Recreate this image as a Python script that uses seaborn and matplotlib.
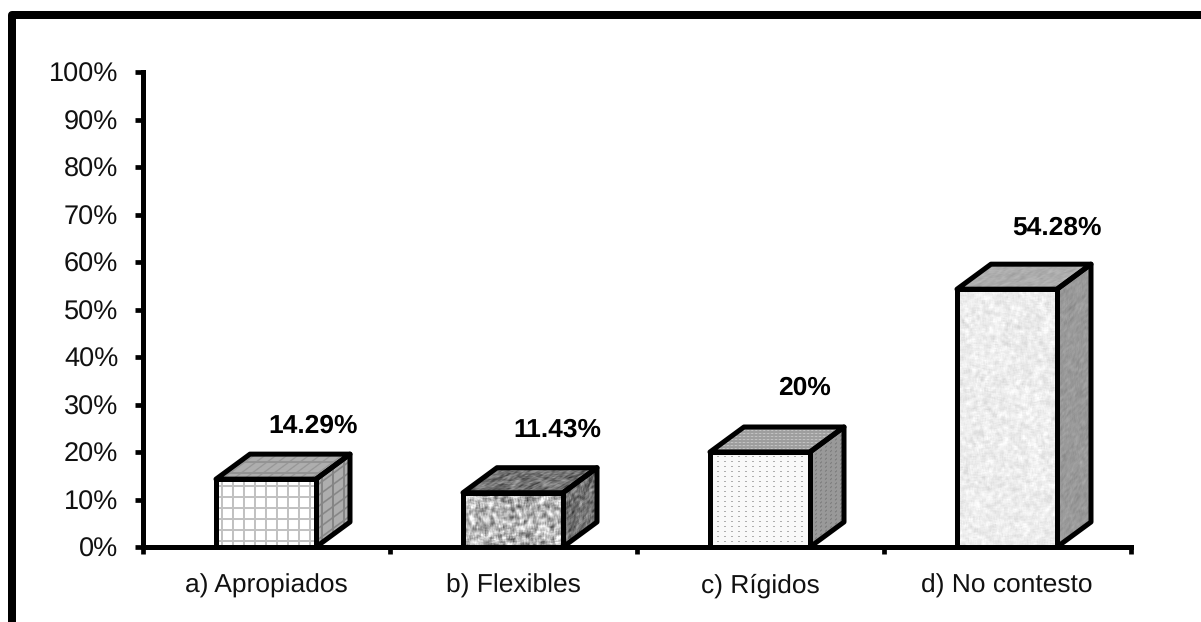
import numpy as np
import matplotlib
matplotlib.use("Agg")
import matplotlib.pyplot as plt
import seaborn as sns
from matplotlib.lines import Line2D
from matplotlib.patches import Polygon
from matplotlib.transforms import Affine2D

categories = ["a) Apropiados", "b) Flexibles", "c) Rígidos", "d) No contesto"]
values = [14.29, 11.43, 20, 54.28]
value_labels = ["14.29%", "11.43%", "20%", "54.28%"]
y_ticks = list(range(0, 101, 10))

# label offsets from the bar's top centre, in pixels
label_dx = [47, 44, 44, 50]
label_dy = [53, 63, 64, 61]

W, H = 1201, 622
AX_L, AX_R, AX_T, AX_B = 142.5, 1130.5, 72, 547
DEPTH_X, DEPTH_Y = 34, 25  # pixels
PX_PER_CAT = (AX_R - AX_L) / 4
PX_PER_PCT = (AX_B - AX_T) / 100
PT = 72 / 100


# textures are only decoration of the faces, the seed keeps them stable
rng = np.random.default_rng(7)


def blur(a, n):
    kernel = np.ones(n) / n
    a = np.apply_along_axis(lambda r: np.convolve(r, kernel, mode="same"), 0, a)
    a = np.apply_along_axis(lambda r: np.convolve(r, kernel, mode="same"), 1, a)
    return a


def grid_tex(h, w, base, line):
    img = np.full((h, w), base, dtype=float)
    for k in range(5, w, 11):
        img[:, k:k + 2] = line
    for k in range(5, h, 11):
        img[k:k + 2, :] = line
    return img


def noise_tex(h, w, base, amp, n):
    a = blur(rng.normal(size=(h + 2 * n, w + 2 * n)), n)[n:-n, n:-n]
    return np.clip(base + amp * a / a.std(), 0, 1)


def dot_tex(h, w, base, dot, step_x, step_y):
    img = np.full((h, w), base, dtype=float)
    for j in range(0, h, step_y):
        img[j, ::step_x] = dot
        img[j, 1::step_x] = dot
    return img


def face(ax, img, origin, u, v, zorder=3):
    # map the unit square of the image on to a parallelogram in data coords
    ox, oy = origin
    m = np.array([[u[0], v[0], ox], [u[1], v[1], oy], [0, 0, 1]])
    im = ax.imshow(img, cmap="gray", vmin=0, vmax=1, origin="lower", aspect="auto",
                   extent=(0, 1, 0, 1), interpolation="bilinear", zorder=zorder)
    im.set_transform(Affine2D(m) + ax.transData)
    corners = [(ox, oy), (ox + u[0], oy + u[1]),
               (ox + u[0] + v[0], oy + u[1] + v[1]), (ox + v[0], oy + v[1])]
    outline = Polygon(corners, closed=True, fill=False, edgecolor="black", linewidth=5 * PT,
                      joinstyle="round", zorder=zorder + 1)
    ax.add_patch(outline)
    im.set_clip_path(outline)


sns.set_style("white")
plt.rcParams["font.family"] = ["Liberation Sans", "DejaVu Sans"]
plt.rcParams["text.hinting"] = "no_hinting"

fig = plt.figure(figsize=(W / 100, H / 100), dpi=100)
ax = fig.add_axes([AX_L / W, 1 - AX_B / H, (AX_R - AX_L) / W, (AX_B - AX_T) / H])

sns.barplot(x=categories, y=values, color="white", width=100 / PX_PER_CAT, saturation=1,
            edgecolor="none", ax=ax)

dx = DEPTH_X / PX_PER_CAT
dy = DEPTH_Y / PX_PER_PCT

for i, patch in enumerate(ax.patches):
    x0 = patch.get_x()
    bw = patch.get_width()
    val = patch.get_height()
    px_h = max(int(round(val * PX_PER_PCT)), 2)

    if i == 0:
        front = grid_tex(px_h, 100, 1.0, 0.76)
        top = grid_tex(25, 100, 0.68, 0.58)
        side = grid_tex(px_h, 34, 0.68, 0.52)
    elif i == 1:
        front = noise_tex(px_h, 100, 0.72, 0.13, 4)
        top = noise_tex(25, 100, 0.45, 0.08, 3)
        side = noise_tex(px_h, 34, 0.45, 0.08, 3)
    elif i == 2:
        front = dot_tex(px_h, 100, 0.98, 0.68, 7, 5)
        top = dot_tex(25, 100, 0.62, 0.8, 4, 3)
        side = dot_tex(px_h, 34, 0.6, 0.45, 5, 4)
    else:
        front = noise_tex(px_h, 100, 0.93, 0.025, 4)
        top = noise_tex(25, 100, 0.68, 0.02, 3)
        side = noise_tex(px_h, 34, 0.6, 0.02, 3)

    face(ax, side, (x0 + bw, 0), (dx, dy), (0, val))
    face(ax, top, (x0, val), (bw, 0), (dx, dy))
    face(ax, front, (x0, 0), (bw, 0), (0, val), zorder=5)

    ax.annotate(value_labels[i], xy=(x0 + bw / 2, val),
                xytext=(label_dx[i] * PT, label_dy[i] * PT), textcoords="offset points",
                ha="center", va="center", fontsize=19, fontweight="bold", color="black",
                zorder=8)

ax.set_xlim(-0.5, 3.5)
ax.set_ylim(0, 100)
ax.set_xlabel("")
ax.set_ylabel("")

ax.set_yticks(y_ticks)
ax.set_yticklabels([f"{t}%" for t in y_ticks])
ax.set_xticks(np.arange(-0.5, 4, 1))
ax.set_xticklabels([])
ax.set_xticks(np.arange(len(categories)), labels=categories, minor=True)

ax.tick_params(axis="y", left=True, length=6, width=3.4, color="black", pad=11.5,
               labelsize=19.5, labelcolor="#111111")
ax.tick_params(axis="x", which="major", bottom=True, length=5, width=3.4, color="black")
ax.tick_params(axis="x", which="minor", bottom=False, length=0, pad=19, labelsize=19,
               labelcolor="#111111")

sns.despine(ax=ax)
for side_name in ["left", "bottom"]:
    ax.spines[side_name].set_linewidth(3.6)
    ax.spines[side_name].set_color("black")
    ax.spines[side_name].set_zorder(7)

# outer frame, open at the right and bottom of the picture
fig.add_artist(Line2D([12 / W, 12 / W, 1], [0, 1 - 15 / H, 1 - 15 / H],
                      transform=fig.transFigure, color="black", linewidth=8 * PT,
                      solid_joinstyle="round"))

fig.savefig("out.png", dpi=100)
